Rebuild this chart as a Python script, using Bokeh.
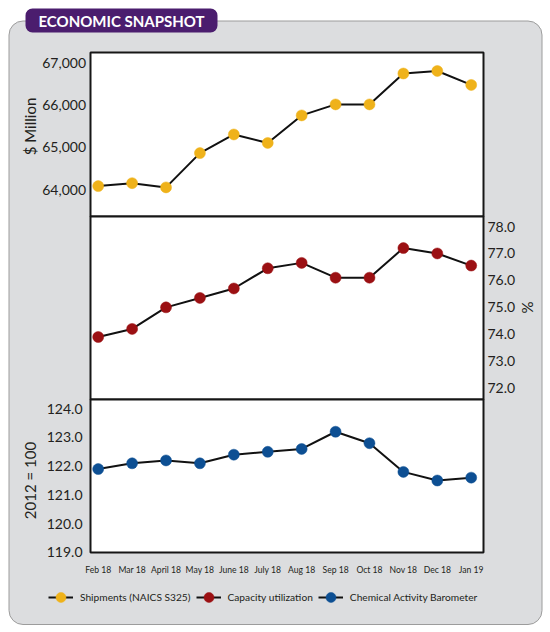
import math
from bokeh.plotting import figure
from bokeh.models import Range1d, Legend, LegendItem
from bokeh.core.properties import value
from bokeh.embed import file_html
from bokeh.resources import INLINE

# ---------------- data ----------------
months = ["Feb 18", "Mar 18", "April 18", "May 18", "June 18", "July 18",
          "Aug 18", "Sep 18", "Oct 18", "Nov 18", "Dec 18", "Jan 19"]
shipments = [64080, 64150, 64050, 64860, 65300, 65100, 65750, 66010, 66010, 66740, 66800, 66470]
capacity = [73.9, 74.2, 75.0, 75.35, 75.7, 76.45, 76.65, 76.1, 76.1, 77.2, 77.0, 76.55]
barometer = [121.9, 122.1, 122.2, 122.1, 122.4, 122.5, 122.6, 123.2, 122.8, 121.8, 121.5, 121.6]

ship_ticks = [64000, 65000, 66000, 67000]
ship_labels = ["64,000", "65,000", "66,000", "67,000"]
cap_ticks = [72, 73, 74, 75, 76, 77, 78]
cap_labels = ["72.0", "73.0", "74.0", "75.0", "76.0", "77.0", "78.0"]
cab_ticks = [119, 120, 121, 122, 123, 124]
cab_labels = ["119.0", "120.0", "121.0", "122.0", "123.0", "124.0"]

header = "ECONOMIC SNAPSHOT"
series_names = ["Shipments (NAICS S325)", "Capacity utilization", "Chemical Activity Barometer"]
axis_titles = ["$ Million", "%", "2012 = 100"]

# ---------------- layout (page pixels) ----------------
W, H = 550, 632
PX0, PX1 = 0, 550
PY0, PY1 = 0, 632
FONT = value("Lato")
TXT = "#231f20"

def y_range_from(v_a, y_a, v_b, y_b):
    k = (v_b - v_a) / (y_a - y_b)
    return Range1d(start=v_a + (y_a - PY1) * k, end=v_a + (y_a - PY0) * k)

X_FIRST, DX = 97.7, 33.91
month_range = Range1d(start=(PX0 - X_FIRST) / DX, end=(PX1 - X_FIRST) / DX)

p = figure(width=W, height=H, x_range=Range1d(PX0, PX1), y_range=Range1d(PY1, PY0),
           x_axis_type=None, y_axis_type=None, toolbar_location=None,
           output_backend="svg", min_border=0, outline_line_color=None,
           background_fill_color="white", border_fill_color="white")
p.extra_x_ranges = {"m": month_range}
p.extra_y_ranges = {
    "ship": y_range_from(64000, 189, 67000, 62),
    "cap": y_range_from(72, 387.7, 78, 226),
    "cab": y_range_from(119, 551.7, 124, 408.3),
}

def rquad(radius, **kw):
    try:
        return p.quad(border_radius=radius, **kw)
    except Exception:
        return p.quad(**kw)

# background panel
rquad(14, left=[8.5], right=[541.5], top=[20.5], bottom=[624],
      fill_color="#dcdddf", line_color="#9c9c9c", line_width=1)

# plot panels
p.quad(left=[90, 90, 90], right=[483, 483, 483], top=[52, 216, 399], bottom=[216, 399, 552],
       fill_color="white", line_color="#161616", line_width=2)

# header pill
rquad(7, left=[25], right=[217], top=[8], bottom=[32], fill_color="#4b1d6e", line_color=None)
p.text(x=[121], y=[20.5], text=[header], text_align="center", text_baseline="middle",
       text_color="white", text_font=FONT, text_font_style="bold", text_font_size="15px")

idx = list(range(len(months)))
series = [(shipments, "ship", "#efb21a"), (capacity, "cap", "#9b1013"), (barometer, "cab", "#0d4f93")]
items = []
for (vals, rn, col), name in zip(series, series_names):
    l = p.line(x=idx, y=vals, x_range_name="m", y_range_name=rn, line_color="#111111", line_width=2)
    c = p.scatter(x=idx, y=vals, x_range_name="m", y_range_name=rn, size=11,
                  fill_color=col, line_color=col, line_width=0.5)
    items.append(LegendItem(label=name, renderers=[l, c]))

# tick labels
p.text(x=[85.5] * len(ship_ticks), y=ship_ticks, text=ship_labels, y_range_name="ship",
       text_align="right", text_baseline="middle", text_font=FONT, text_font_size="14px", text_color=TXT)
p.text(x=[487] * len(cap_ticks), y=cap_ticks, text=cap_labels, y_range_name="cap",
       text_align="left", text_baseline="middle", text_font=FONT, text_font_size="14px", text_color=TXT)
p.text(x=[82] * len(cab_ticks), y=cab_ticks, text=cab_labels, y_range_name="cab",
       text_align="right", text_baseline="middle", text_font=FONT, text_font_size="14px", text_color=TXT)
p.text(x=idx, y=[569] * len(months), text=months, x_range_name="m",
       text_align="center", text_baseline="middle", text_font=FONT, text_font_size="8.6px", text_color=TXT)

# axis titles
p.text(x=[29], y=[126], text=[axis_titles[0]], angle=math.pi / 2, text_align="center",
       text_baseline="middle", text_font=FONT, text_font_size="15px", text_color=TXT)
p.text(x=[527], y=[307], text=[axis_titles[1]], angle=-math.pi / 2, text_align="center",
       text_baseline="middle", text_font=FONT, text_font_size="15px", text_color=TXT)
p.text(x=[29], y=[480], text=[axis_titles[2]], angle=math.pi / 2, text_align="center",
       text_baseline="middle", text_font=FONT, text_font_size="15px", text_color=TXT)

legend = Legend(items=items, orientation="horizontal", location=(48, 22),
                glyph_width=25, glyph_height=26, label_height=26, label_standoff=7, spacing=5,
                padding=0, margin=0, border_line_color=None, background_fill_alpha=0,
                label_text_font="Lato", label_text_font_size="10.2px", label_text_color=TXT)
p.add_layout(legend)

open("out.html", "w").write(file_html(p, INLINE))
